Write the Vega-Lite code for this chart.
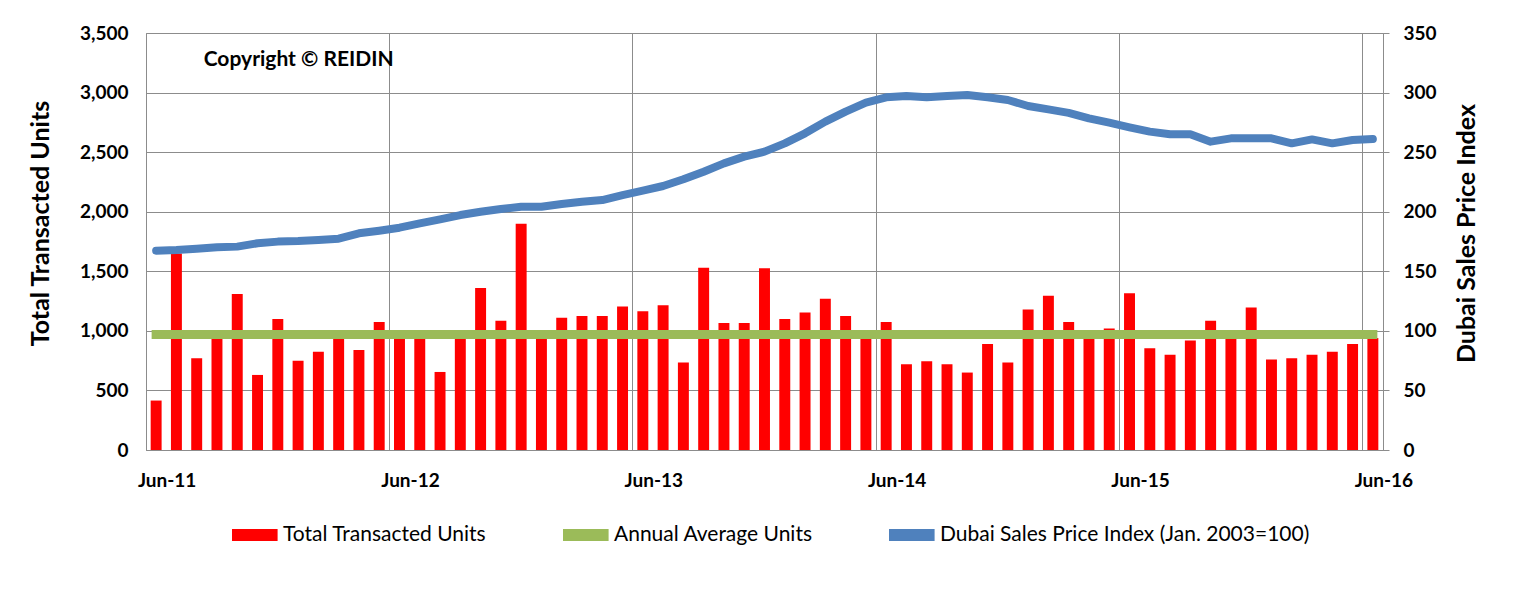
{
  "$schema": "https://vega.github.io/schema/vega-lite/v6.json",
  "width": 1237,
  "height": 417,
  "autosize": {"type": "none"},
  "padding": {"left": 146, "top": 33, "right": 134, "bottom": 143},
  "background": "white",
  "config": {
    "font": "Lato",
    "view": {"stroke": "#8c8c8c", "strokeWidth": 1},
    "axis": {"labelFont": "Lato", "titleFont": "Lato", "labelColor": "#000000", "titleColor": "#000000", "gridColor": "#8c8c8c", "domainColor": "#8c8c8c", "tickColor": "#8c8c8c"}
  },
  "data": {"values": [
    {"month": "2011-06", "units": 415, "avg": 970, "index": 167.3},
    {"month": "2011-07", "units": 1650, "avg": 970, "index": 167.9},
    {"month": "2011-08", "units": 770, "avg": 970, "index": 169.0},
    {"month": "2011-09", "units": 950, "avg": 970, "index": 170.1},
    {"month": "2011-10", "units": 1310, "avg": 970, "index": 170.7},
    {"month": "2011-11", "units": 630, "avg": 970, "index": 173.5},
    {"month": "2011-12", "units": 1100, "avg": 970, "index": 174.9},
    {"month": "2012-01", "units": 750, "avg": 970, "index": 175.4},
    {"month": "2012-02", "units": 825, "avg": 970, "index": 176.3},
    {"month": "2012-03", "units": 950, "avg": 970, "index": 177.4},
    {"month": "2012-04", "units": 840, "avg": 970, "index": 181.9},
    {"month": "2012-05", "units": 1075, "avg": 970, "index": 184.1},
    {"month": "2012-06", "units": 950, "avg": 970, "index": 186.6},
    {"month": "2012-07", "units": 950, "avg": 970, "index": 190.2},
    {"month": "2012-08", "units": 655, "avg": 970, "index": 193.6},
    {"month": "2012-09", "units": 950, "avg": 970, "index": 197.2},
    {"month": "2012-10", "units": 1360, "avg": 970, "index": 200.0},
    {"month": "2012-11", "units": 1085, "avg": 970, "index": 202.3},
    {"month": "2012-12", "units": 1900, "avg": 970, "index": 204.2},
    {"month": "2013-01", "units": 950, "avg": 970, "index": 204.2},
    {"month": "2013-02", "units": 1110, "avg": 970, "index": 206.5},
    {"month": "2013-03", "units": 1125, "avg": 970, "index": 208.4},
    {"month": "2013-04", "units": 1125, "avg": 970, "index": 209.8},
    {"month": "2013-05", "units": 1205, "avg": 970, "index": 214.0},
    {"month": "2013-06", "units": 1165, "avg": 970, "index": 217.7},
    {"month": "2013-07", "units": 1215, "avg": 970, "index": 221.6},
    {"month": "2013-08", "units": 735, "avg": 970, "index": 227.2},
    {"month": "2013-09", "units": 1530, "avg": 970, "index": 233.6},
    {"month": "2013-10", "units": 1065, "avg": 970, "index": 240.6},
    {"month": "2013-11", "units": 1065, "avg": 970, "index": 246.2},
    {"month": "2013-12", "units": 1525, "avg": 970, "index": 250.4},
    {"month": "2014-01", "units": 1100, "avg": 970, "index": 257.4},
    {"month": "2014-02", "units": 1155, "avg": 970, "index": 265.8},
    {"month": "2014-03", "units": 1270, "avg": 970, "index": 275.6},
    {"month": "2014-04", "units": 1125, "avg": 970, "index": 284.0},
    {"month": "2014-05", "units": 950, "avg": 970, "index": 291.5},
    {"month": "2014-06", "units": 1075, "avg": 970, "index": 296.0},
    {"month": "2014-07", "units": 720, "avg": 970, "index": 297.1},
    {"month": "2014-08", "units": 745, "avg": 970, "index": 296.0},
    {"month": "2014-09", "units": 720, "avg": 970, "index": 297.1},
    {"month": "2014-10", "units": 650, "avg": 970, "index": 298.0},
    {"month": "2014-11", "units": 890, "avg": 970, "index": 296.0},
    {"month": "2014-12", "units": 735, "avg": 970, "index": 293.8},
    {"month": "2015-01", "units": 1180, "avg": 970, "index": 288.7},
    {"month": "2015-02", "units": 1295, "avg": 970, "index": 285.9},
    {"month": "2015-03", "units": 1075, "avg": 970, "index": 283.0},
    {"month": "2015-04", "units": 950, "avg": 970, "index": 278.4},
    {"month": "2015-05", "units": 1020, "avg": 970, "index": 274.7},
    {"month": "2015-06", "units": 1315, "avg": 970, "index": 270.8},
    {"month": "2015-07", "units": 855, "avg": 970, "index": 267.2},
    {"month": "2015-08", "units": 800, "avg": 970, "index": 265.0},
    {"month": "2015-09", "units": 920, "avg": 970, "index": 265.0},
    {"month": "2015-10", "units": 1085, "avg": 970, "index": 258.8},
    {"month": "2015-11", "units": 950, "avg": 970, "index": 261.6},
    {"month": "2015-12", "units": 1195, "avg": 970, "index": 261.6},
    {"month": "2016-01", "units": 760, "avg": 970, "index": 261.6},
    {"month": "2016-02", "units": 770, "avg": 970, "index": 257.4},
    {"month": "2016-03", "units": 800, "avg": 970, "index": 260.7},
    {"month": "2016-04", "units": 825, "avg": 970, "index": 257.4},
    {"month": "2016-05", "units": 890, "avg": 970, "index": 260.2},
    {"month": "2016-06", "units": 940, "avg": 970, "index": 261.0}
  ]},
  "encoding": {
    "x": {
      "field": "month", "type": "ordinal",
      "scale": {"paddingInner": 0.46, "paddingOuter": 0.23},
      "axis": {
        "title": null,
        "values": ["2011-06", "2012-06", "2013-06", "2014-06", "2015-06", "2016-06"],
        "labelExpr": "'Jun-' + substring(datum.value, 2, 4)",
        "labelAngle": 0,
        "grid": true,
        "gridColor": "#8c8c8c",
        "bandPosition": -0.42,
        "labelOffset": 11,
        "ticks": false,
        "domain": true,
        "labelFontSize": 19,
        "labelFontWeight": "bold",
        "labelPadding": 21
      }
    }
  },
  "resolve": {"scale": {"y": "independent"}},
  "layer": [
    {
      "layer": [
        {
          "mark": {"type": "bar", "color": "#ff0000"},
          "encoding": {
            "y": {
              "field": "units", "type": "quantitative",
              "scale": {"domain": [0, 3500], "nice": false},
              "axis": {
                "orient": "left",
                "values": [0, 500, 1000, 1500, 2000, 2500, 3000, 3500],
                "labelExpr": "format(datum.value, ',.0f')",
                "grid": true,
                "ticks": false,
                "domain": false,
                "labelFontSize": 19,
                "labelFontWeight": "bold",
                "labelPadding": 18,
                "title": "Total Transacted Units",
                "titleFontSize": 25,
                "titleFontWeight": "bold",
                "titlePadding": 26,
                "titleY": 190
              }
            },
            "color": {
              "datum": "Total Transacted Units",
              "scale": {
                "domain": ["Total Transacted Units", "Annual Average Units", "Dubai Sales Price Index (Jan. 2003=100)"],
                "range": ["#ff0000", "#9bbb59", "#4f81bd"]
              },
              "legend": {
                "title": null,
                "orient": "none",
                "direction": "horizontal",
                "legendX": 86,
                "legendY": 490,
                "padding": 0,
                "columnPadding": 76,
                "labelFont": "Lato",
                "labelFontSize": 21,
                "labelLimit": 0,
                "labelColor": "#000000",
                "labelOffset": 27,
                "symbolType": "M-1,-0.5H2.8V0.5H-1Z",
                "symbolSize": 576,
                "symbolStrokeWidth": 0,
                "encode": {
                  "symbols": {
                    "update": {
                      "fill": {"scale": "color", "field": "value"},
                      "stroke": {"value": "transparent"},
                      "opacity": {"value": 1}
                    }
                  }
                }
              }
            }
          }
        },
        {
          "mark": {"type": "line", "strokeWidth": 9, "strokeCap": "square"},
          "encoding": {
            "y": {"field": "avg", "type": "quantitative"},
            "color": {"datum": "Annual Average Units"}
          }
        },
        {
          "data": {"values": [{"label": "Copyright © REIDIN"}]},
          "mark": {"type": "text", "align": "left", "baseline": "middle", "fontSize": 21, "fontWeight": "bold", "font": "Lato", "color": "#000000", "dx": 7},
          "encoding": {
            "x": {"datum": "2011-08", "type": "ordinal"},
            "y": {"datum": 3270, "type": "quantitative"},
            "text": {"field": "label"}
          }
        }
      ]
    },
    {
      "mark": {"type": "line", "strokeWidth": 8, "strokeCap": "round", "strokeJoin": "round"},
      "encoding": {
        "y": {
          "field": "index", "type": "quantitative",
          "scale": {"domain": [0, 350], "nice": false},
          "axis": {
            "orient": "right",
            "values": [0, 50, 100, 150, 200, 250, 300, 350],
            "grid": false,
            "ticks": true,
            "tickSize": 6,
            "domain": true,
            "labelFontSize": 19,
            "labelFontWeight": "bold",
            "labelPadding": 14,
            "title": "Dubai Sales Price Index",
            "titleFontSize": 25,
            "titleFontWeight": "bold",
            "titleAngle": 270,
            "titleBaseline": "top",
            "titlePadding": 18,
            "titleY": 200
          }
        },
        "color": {"datum": "Dubai Sales Price Index (Jan. 2003=100)"}
      }
    }
  ]
}
